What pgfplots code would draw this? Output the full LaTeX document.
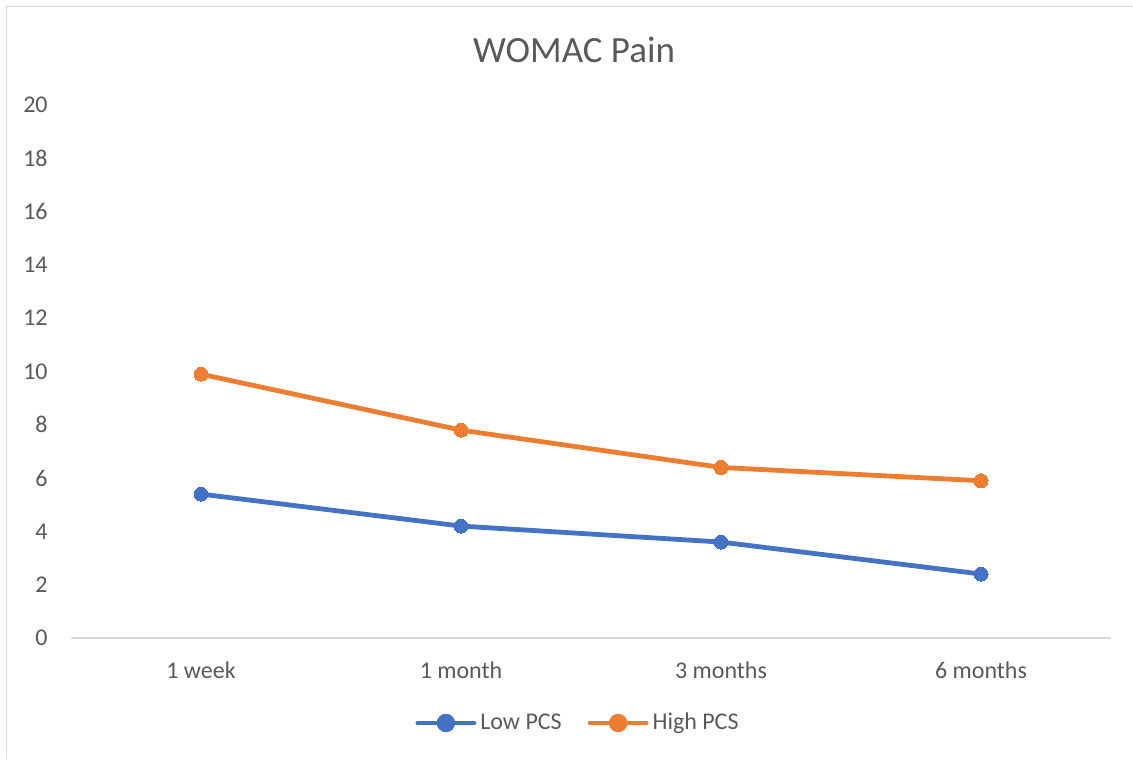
\documentclass[border=0pt]{standalone}
\usepackage{pgfplots}
\pgfplotsset{compat=1.18}
\usepackage{fontspec}
\setmainfont{Carlito}
\definecolor{txtgray}{RGB}{89,89,89}
\definecolor{linegray}{RGB}{217,217,217}
\definecolor{lowblue}{RGB}{68,114,196}
\definecolor{highorange}{RGB}{237,125,49}
\begin{document}
\begin{tikzpicture}
\path[use as bounding box] (0,0) rectangle (566.5pt,379.5pt);
\draw[linegray, line width=0.75pt] (3.25pt,0) -- (3.25pt,376.25pt) -- (566.5pt,376.25pt);
\node[txtgray, font=\fontsize{18.5}{22}\selectfont, anchor=center] at (287pt,354.5pt) {WOMAC Pain};
\begin{axis}[
  at={(35.5pt,60.5pt)}, anchor=south west,
  scale only axis, width=520pt, height=266.5pt,
  xmin=-0.5, xmax=3.5, ymin=0, ymax=20,
  xtick={0,1,2,3},
  xticklabels={1 week,1 month,3 months,6 months},
  ytick={0,2,...,20},
  axis line style={draw=none},
  major tick length=0pt,
  clip=false,
  /pgf/number format/assume math mode=true,
  ticklabel style={font=\fontsize{12}{14}\selectfont, text=txtgray},
  yticklabel style={anchor=east, inner sep=0pt, xshift=-11.5pt},
  xticklabel style={anchor=center, inner sep=0pt, yshift=-16pt},
  legend columns=2,
  legend style={at={(0.4885,-0.1595)}, anchor=center, draw=none, fill=none,
    font=\fontsize{12}{14}\selectfont, text=txtgray,
    /tikz/every even column/.append style={column sep=11pt},
    inner sep=0pt, cells={anchor=west, inner xsep=1pt}},
  legend image code/.code={
    \draw[#1, mark=none, line width=2.4pt, line cap=round] (0pt,0pt) -- (28pt,0pt);
    \fill[#1] (14pt,0pt) circle (3.4pt);
  },
]
\draw[linegray, line width=0.75pt] (axis cs:-0.5,0) -- (axis cs:3.5,0);
\addplot[lowblue, line width=2.4pt, mark=*, mark size=3.5pt, mark options={fill=lowblue, draw=lowblue, line width=0pt}]
  coordinates {(0,5.4) (1,4.2) (2,3.6) (3,2.4)};
\addlegendentry{Low PCS}
\addplot[highorange, line width=2.4pt, mark=*, mark size=3.5pt, mark options={fill=highorange, draw=highorange, line width=0pt}]
  coordinates {(0,9.9) (1,7.8) (2,6.4) (3,5.9)};
\addlegendentry{High PCS}
\end{axis}
\end{tikzpicture}
\end{document}
